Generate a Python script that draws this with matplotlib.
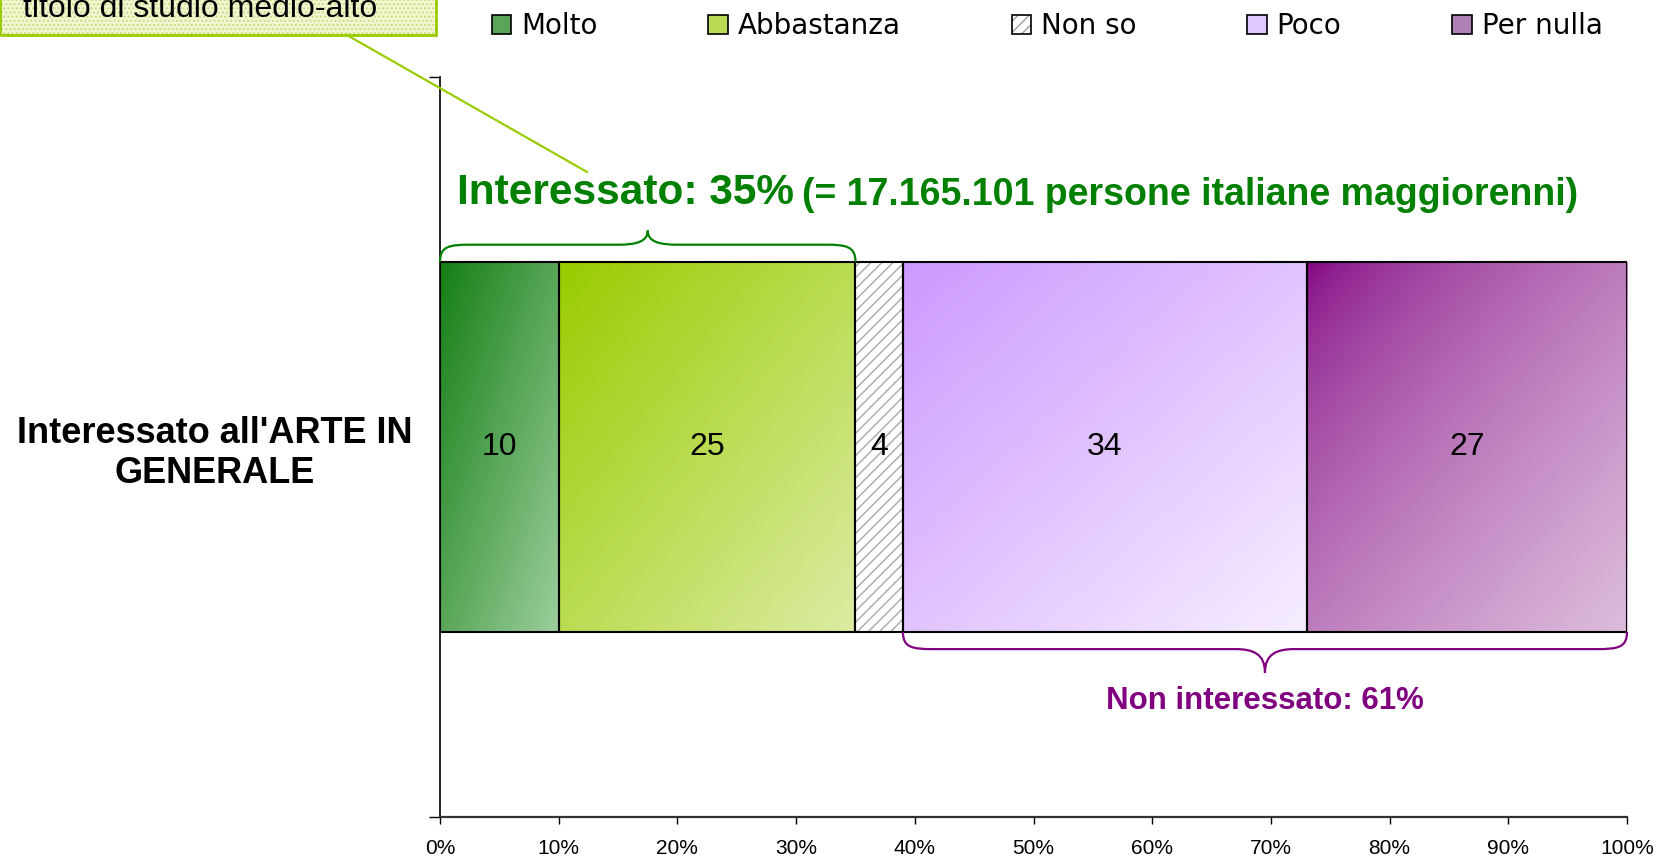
import numpy as np
import matplotlib
matplotlib.use('Agg')
import matplotlib.pyplot as plt
from matplotlib.colors import to_rgb
from matplotlib.patches import Patch, Rectangle, PathPatch, ConnectionPatch
from matplotlib.path import Path

# data
categories = ['Molto', 'Abbastanza', 'Non so', 'Poco', 'Per nulla']
values = [10, 25, 4, 34, 27]
row_label = "Interessato all'ARTE IN\nGENERALE"
persone = '17.165.101'
note_text = 'titolo di studio medio-alto'

# gradient start (top-left) / end (bottom-right), None = hatched
grad_start = ['#157f15', '#99cc00', None, '#cc99ff', '#800080']
grad_end = ['#9cce9c', '#dcecA4', None, '#f6eeff', '#dcbcdc']
grad_gamma = [1.0, 1.0, 1.0, 1.0, 0.6]
mid_col = ['#5aa55a', '#bada55', 'white', '#e0c8ff', '#b080b8']

GREEN = '#008000'
PURPLE = '#800080'
W, H = 1657, 858

plt.rcParams['font.family'] = ['Liberation Sans', 'DejaVu Sans']


def brace(ax, x0, x1, yb, h, frac, q, color):
    xm = (x0 + x1) / 2
    ym = yb + frac * h
    tip = yb + h
    verts = [(x0, yb),
             (x0, yb + 0.9 * (ym - yb)), (x0 + 0.3 * q, ym), (x0 + q, ym),
             (xm - q, ym),
             (xm - 0.4 * q, ym), (xm, ym + 0.2 * (tip - ym)), (xm, tip),
             (xm, ym + 0.2 * (tip - ym)), (xm + 0.4 * q, ym), (xm + q, ym),
             (x1 - q, ym),
             (x1 - 0.3 * q, ym), (x1, yb + 0.9 * (ym - yb)), (x1, yb)]
    codes = [Path.MOVETO] + [Path.CURVE4] * 3 + [Path.LINETO] + [Path.CURVE4] * 6 \
        + [Path.LINETO] + [Path.CURVE4] * 3
    ax.add_patch(PathPatch(Path(verts, codes), fill=False, edgecolor=color,
                           lw=1.6, clip_on=False, zorder=4))


def gradient(c0, c1, gamma=1.0, n=120):
    u = np.linspace(0, 1, n)
    U, V = np.meshgrid(u, u)
    t = (((U + (1 - V)) / 2) ** gamma)[..., None]
    return np.array(to_rgb(c0)) * (1 - t) + np.array(to_rgb(c1)) * t


fig = plt.figure(figsize=(W / 100, H / 100), dpi=100)
ax = fig.add_axes([440 / W, 41 / H, 1187 / W, 740 / H])

lefts = np.concatenate([[0], np.cumsum(values)[:-1]])
bars = ax.barh([0] * len(values), values, left=lefts, height=1.0,
               color=mid_col, edgecolor='none', zorder=2)

for i, b in enumerate(bars):
    if grad_start[i] is None:
        b.set_hatch('///')
        b.set_edgecolor('#a8a8a8')
        b.set_linewidth(0)
        continue
    x, y, w, h = b.get_x(), b.get_y(), b.get_width(), b.get_height()
    im = ax.imshow(gradient(grad_start[i], grad_end[i], grad_gamma[i]),
                   extent=(x, x + w, y, y + h), origin='lower', aspect='auto',
                   zorder=2.5, interpolation='bilinear')
    im.set_clip_path(b)

ax.barh([0] * len(values), values, left=lefts, height=1.0, fill=False,
        edgecolor='black', linewidth=1.5, zorder=3)

for l, v in zip(lefts, values):
    ax.text(l + v / 2, 0, str(v), ha='center', va='center', fontsize=23, zorder=5)

ax.set_xlim(0, 100)
ax.set_ylim(-1, 1)
ax.set_xticks(np.arange(0, 101, 10))
ax.set_xticklabels([f'{v}%' for v in range(0, 101, 10)], fontsize=15)
ax.tick_params(axis='x', direction='out', length=5, width=1, pad=11)
ax.set_yticks([-1, 1])
ax.set_yticklabels([])
ax.tick_params(axis='y', which='major', direction='out', length=8, width=1)
ax.set_yticks([0], minor=True)
ax.set_yticklabels([row_label], minor=True, fontsize=26, fontweight='bold')
ax.tick_params(axis='y', which='minor', length=0, pad=20)
for t in ax.get_yticklabels(minor=True):
    t.set_multialignment('center')
ax.spines['top'].set_visible(False)
ax.spines['right'].set_visible(False)
ax.spines['left'].set_linewidth(1.2)
ax.spines['bottom'].set_linewidth(1.6)
ax.spines['bottom'].set_color('#333333')

# braces and group labels
interessato = values[0] + values[1]
non_interessato = values[3] + values[4]
brace(ax, 0, interessato, 0.5, 0.085, 0.55, 2.5, GREEN)
brace(ax, lefts[3], 100, -0.5, -0.11, 0.42, 2.5, PURPLE)

t1 = ax.text(1.4, 0.657, f'Interessato: {interessato}%', color=GREEN,
             fontsize=30.5, fontweight='bold', va='baseline', ha='left')
ax.annotate(f'(= {persone} persone italiane maggiorenni)', xy=(1, 0), xycoords=t1,
            xytext=(6, 0), textcoords='offset points', color=GREEN,
            fontsize=27, fontweight='bold', va='bottom', ha='left')
ax.text((lefts[3] + 100) / 2, -0.686, f'Non interessato: {non_interessato}%',
        color=PURPLE, fontsize=22.5, fontweight='bold', ha='center', va='center')

# legend
handles = []
for i, c in enumerate(categories):
    if grad_start[i] is None:
        handles.append((Patch(facecolor='white', edgecolor='#a0a0a0', hatch='///', lw=0),
                        Patch(fill=False, edgecolor='black', lw=1.2)))
    else:
        handles.append(Patch(facecolor=mid_col[i], edgecolor='black', lw=1.2))
fig.legend(handles, categories, loc='center', bbox_to_anchor=(1047 / W, 1 - 26 / H),
           ncol=5, frameon=False, prop={'family': 'DejaVu Sans', 'size': 20},
           handlelength=0.7, handleheight=0.7, handletextpad=0.35,
           columnspacing=4.0, borderpad=0, borderaxespad=0)

# callout box at the top left
fig.patches.append(Rectangle((0, H - 34.5), 436, 60, transform=None,
                             facecolor='#f2f6d2', edgecolor='#c9dc80', hatch='....',
                             lw=0, zorder=1))
fig.patches.append(Rectangle((0, H - 34.5), 436, 60, transform=None,
                             fill=False, edgecolor='#99cc00', lw=2, zorder=2))
fig.text(23 / W, 1 - 17 / H, note_text, fontsize=23, va='baseline', ha='left', zorder=3)
con = ConnectionPatch(xyA=(346, H - 34.5), coordsA='figure pixels',
                      xyB=(12.4, 0.743), coordsB=ax.transData,
                      color='#99cc00', lw=1.6, zorder=6)
fig.add_artist(con)

fig.savefig('out.png', dpi=100)
